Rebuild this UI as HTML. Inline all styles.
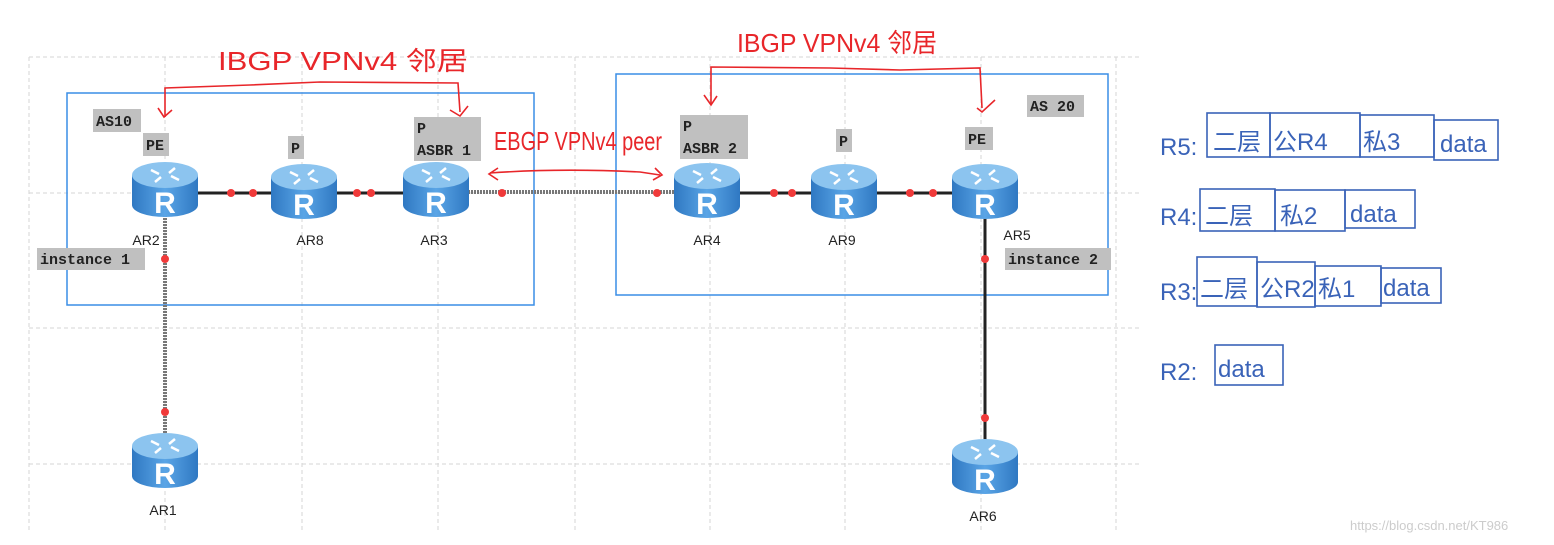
<!DOCTYPE html>
<html><head><meta charset="utf-8"><style>
html,body{margin:0;padding:0;background:#fff;}
svg{display:block}
.mono{font-family:"Liberation Mono","DejaVu Sans Mono",monospace;font-size:15px;fill:#222;font-weight:bold}
.lbl{font-family:"Liberation Sans",sans-serif;font-size:14px;fill:#222}
.red{font-family:"Liberation Sans","Noto Sans CJK SC",sans-serif;fill:#e8262a;font-size:26px}
.blue{font-family:"Liberation Sans","Noto Sans CJK SC",sans-serif;fill:#3a63b8;font-size:24px}
</style></head><body>
<svg width="1554" height="545" viewBox="0 0 1554 545" xmlns="http://www.w3.org/2000/svg">
<defs>
<linearGradient id="cyl" x1="0" x2="1" y1="0" y2="0">
<stop offset="0" stop-color="#2f78c2"/><stop offset="0.5" stop-color="#5aa5e6"/><stop offset="1" stop-color="#2f78c2"/>
</linearGradient>
<g id="rt">
<path d="M-33,-15 L-33,15 A33,12 0 0 0 33,15 L33,-15 Z" fill="url(#cyl)"/>
<ellipse cx="0" cy="-15" rx="33" ry="13" fill="#8cc4ef"/>
<g stroke="#fff" stroke-width="2.5" fill="none">
<path d="M-14,-20 l8,4 M14,-10 l-8,-4 M-10,-8 l6,-5 M10,-22 l-6,5"/>
</g>
<text x="0" y="23" text-anchor="middle" font-family="Liberation Sans,sans-serif" font-weight="bold" font-size="30" fill="#fff">R</text>
</g>
</defs>
<g stroke="#d6d6d6" stroke-dasharray="4,3" stroke-width="1">
<line x1="29" y1="57" x2="29" y2="530"/><line x1="165" y1="57" x2="165" y2="530"/><line x1="302" y1="57" x2="302" y2="530"/><line x1="438" y1="57" x2="438" y2="530"/><line x1="575" y1="57" x2="575" y2="530"/><line x1="710" y1="57" x2="710" y2="530"/><line x1="845" y1="57" x2="845" y2="530"/><line x1="981" y1="57" x2="981" y2="530"/><line x1="1116" y1="57" x2="1116" y2="530"/>
<line x1="29" y1="57" x2="1140" y2="57"/><line x1="29" y1="193" x2="1140" y2="193"/><line x1="29" y1="328" x2="1140" y2="328"/><line x1="29" y1="464" x2="1140" y2="464"/>
</g>
<rect x="67" y="93" width="467" height="212" fill="none" stroke="#3a8ee6" stroke-width="1.5"/>
<rect x="616" y="74" width="492" height="221" fill="none" stroke="#3a8ee6" stroke-width="1.5"/>
<g stroke="#222" stroke-width="3">
<line x1="165" y1="193" x2="438" y2="193"/>
<line x1="710" y1="193" x2="985" y2="193"/>
<line x1="985" y1="200" x2="985" y2="460"/>
</g>
<line x1="438" y1="192" x2="710" y2="192" stroke="#777" stroke-width="4" stroke-dasharray="2,1"/>
<line x1="165" y1="200" x2="165" y2="460" stroke="#777" stroke-width="4" stroke-dasharray="2,1"/>
<g fill="#f03a3a">
<circle cx="231" cy="193" r="4"/><circle cx="253" cy="193" r="4"/><circle cx="357" cy="193" r="4"/><circle cx="371" cy="193" r="4"/><circle cx="502" cy="193" r="4"/><circle cx="657" cy="193" r="4"/><circle cx="774" cy="193" r="4"/><circle cx="792" cy="193" r="4"/><circle cx="910" cy="193" r="4"/><circle cx="933" cy="193" r="4"/><circle cx="165" cy="259" r="4"/><circle cx="165" cy="412" r="4"/><circle cx="985" cy="259" r="4"/><circle cx="985" cy="418" r="4"/>
</g>
<use href="#rt" x="165" y="190"/><use href="#rt" x="304" y="192"/><use href="#rt" x="436" y="190"/>
<use href="#rt" x="707" y="191"/><use href="#rt" x="844" y="192"/><use href="#rt" x="985" y="192"/>
<use href="#rt" x="165" y="461"/><use href="#rt" x="985" y="467"/>
<g class="lbl" text-anchor="middle">
<text x="146" y="245">AR2</text><text x="310" y="245">AR8</text><text x="434" y="245">AR3</text>
<text x="707" y="245">AR4</text><text x="842" y="245">AR9</text><text x="1017" y="240">AR5</text>
<text x="163" y="515">AR1</text><text x="983" y="521">AR6</text>
</g>
<g fill="#c0c0c0">
<rect x="93" y="109" width="48" height="23"/><rect x="143" y="133" width="26" height="23"/><rect x="288" y="136" width="16" height="23"/>
<rect x="414" y="117" width="67" height="44"/><rect x="37" y="248" width="108" height="22"/>
<rect x="680" y="115" width="68" height="44"/><rect x="836" y="129" width="16" height="23"/><rect x="965" y="127" width="28" height="23"/>
<rect x="1027" y="95" width="57" height="22"/><rect x="1005" y="248" width="106" height="22"/>
</g>
<g class="mono">
<text x="96" y="126">AS10</text><text x="146" y="150">PE</text><text x="291" y="153">P</text>
<text x="417" y="133">P</text><text x="417" y="155">ASBR 1</text><text x="40" y="264">instance 1</text>
<text x="683" y="131">P</text><text x="683" y="153">ASBR 2</text><text x="839" y="146">P</text><text x="968" y="144">PE</text>
<text x="1030" y="111">AS 20</text><text x="1008" y="264">instance 2</text>
</g>
<g fill="none" stroke="#e8262a" stroke-width="1.6">
<path d="M165,117 L165,88 L250,85 L320,82 L458,83 L460,112"/>
<path d="M158,108 L164,117 L172,110"/><path d="M450,110 L460,116 L468,106"/>
<path d="M711,105 L711,67 L830,68 L900,70 L980,68 L982,108"/>
<path d="M704,95 L711,105 L717,96"/><path d="M977,108 L982,112 L995,100"/>
<path d="M490,173 Q560,168 640,172 L660,175"/><path d="M498,168 L489,174 L498,180"/><path d="M655,168 L662,175 L653,180"/>
</g>
<text class="red" x="218" y="70" textLength="250" lengthAdjust="spacingAndGlyphs">IBGP  VPNv4 邻居</text>
<text class="red" x="737" y="52" textLength="200" lengthAdjust="spacingAndGlyphs">IBGP VPNv4 邻居</text>
<text class="red" x="494" y="150" font-size="20" textLength="168" lengthAdjust="spacingAndGlyphs">EBGP VPNv4 peer</text>
<g fill="none" stroke="#3a63b8" stroke-width="1.6">
<rect x="1207" y="113" width="63" height="44"/><rect x="1270" y="113" width="90" height="44"/><rect x="1360" y="115" width="74" height="42"/><rect x="1434" y="120" width="64" height="40"/>
<rect x="1200" y="189" width="75" height="42"/><rect x="1275" y="190" width="70" height="41"/><rect x="1345" y="190" width="70" height="38"/>
<rect x="1197" y="257" width="60" height="49"/><rect x="1257" y="262" width="58" height="45"/><rect x="1315" y="266" width="66" height="40"/><rect x="1381" y="268" width="60" height="35"/>
<rect x="1215" y="345" width="68" height="40"/>
</g>
<g class="blue">
<text x="1160" y="155">R5:</text><text x="1213" y="150">二层</text><text x="1273" y="150">公R4</text><text x="1363" y="150">私3</text><text x="1440" y="152">data</text>
<text x="1160" y="225">R4:</text><text x="1205" y="224">二层</text><text x="1280" y="224">私2</text><text x="1350" y="222">data</text>
<text x="1160" y="300">R3:</text><text x="1200" y="297">二层</text><text x="1260" y="297">公R2</text><text x="1318" y="297">私1</text><text x="1383" y="296">data</text>
<text x="1160" y="380">R2:</text><text x="1218" y="377">data</text>
</g>
<text x="1350" y="530" font-family="Liberation Sans,sans-serif" font-size="13" fill="#ccc">https://blog.csdn.net/KT986</text>
</svg>
</body></html>
